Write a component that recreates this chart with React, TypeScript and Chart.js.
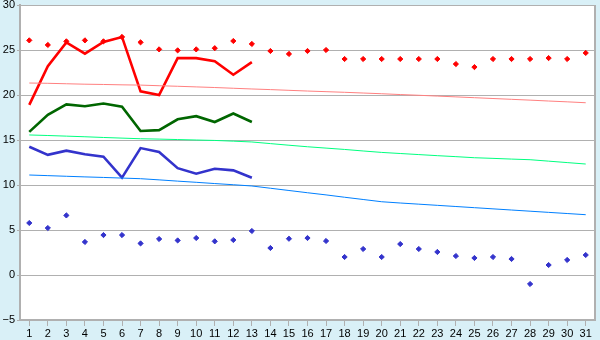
import React, { useEffect, useRef } from "react";
import { Chart, registerables } from "chart.js";

Chart.register(...registerables);

const days = ["1","2","3","4","5","6","7","8","9","10","11","12","13","14","15","16","17","18","19","20","21","22","23","24","25","26","27","28","29","30","31"];

// Daily max (red line, days 1-13)
const maxLine = [18.9, 23.2, 25.85, 24.6, 25.9, 26.45, 20.4, 20.0, 24.1, 24.1, 23.75, 22.25, 23.65,
  null, null, null, null, null, null, null, null, null, null, null, null, null, null, null, null, null, null];
// Daily mean (green line)
const meanLine = [15.9, 17.8, 18.95, 18.75, 19.05, 18.7, 16.0, 16.1, 17.3, 17.65, 17.0, 17.95, 17.0,
  null, null, null, null, null, null, null, null, null, null, null, null, null, null, null, null, null, null];
// Daily min (blue line)
const minLine = [14.25, 13.35, 13.82, 13.42, 13.15, 10.82, 14.1, 13.67, 11.87, 11.25, 11.8, 11.63, 10.8,
  null, null, null, null, null, null, null, null, null, null, null, null, null, null, null, null, null, null];
// Red markers
const maxPoints = [26.07, 25.56, 25.96, 26.07, 25.96, 26.45, 25.85, 25.07, 24.96, 25.07, 25.2, 26.0, 25.67,
  24.89, 24.56, 24.89, 25.0, 24.0, 24.0, 24.0, 24.0, 24.0, 24.0, 23.44, 23.1, 24.0, 24.0, 24.0, 24.1, 24.0, 24.67];
// Blue markers
const minPoints = [5.78, 5.22, 6.62, 3.67, 4.44, 4.44, 3.51, 4.0, 3.84, 4.11, 3.74, 3.89, 4.89,
  3.0, 4.03, 4.11, 3.78, 2.0, 2.89, 2.0, 3.44, 2.89, 2.56, 2.11, 1.89, 2.0, 1.78, -1.0, 1.11, 1.67, 2.22];
// Normals
const normalMax = [21.33, 21.3, 21.25, 21.2, 21.17, 21.13, 21.1, 21.03, 20.97, 20.9, 20.83, 20.75, 20.67, 20.6, 20.52, 20.44,
  20.37, 20.3, 20.22, 20.14, 20.05, 19.97, 19.88, 19.79, 19.7, 19.61, 19.52, 19.43, 19.33, 19.24, 19.14];
const normalMean = [15.56, 15.5, 15.43, 15.36, 15.28, 15.21, 15.14, 15.1, 15.05, 15.0, 14.95, 14.87, 14.78, 14.6, 14.42, 14.25,
  14.1, 13.95, 13.78, 13.62, 13.5, 13.38, 13.26, 13.15, 13.03, 12.96, 12.88, 12.81, 12.65, 12.49, 12.33];
const normalMin = [11.11, 11.04, 10.97, 10.9, 10.84, 10.77, 10.7, 10.57, 10.43, 10.3, 10.16, 10.03, 9.89, 9.64, 9.39, 9.14,
  8.9, 8.64, 8.39, 8.14, 8.0, 7.87, 7.74, 7.61, 7.48, 7.35, 7.22, 7.09, 6.96, 6.83, 6.7];

const GRID = "#b0b0b0";
const FONT = { family: "'Liberation Sans', Arial, sans-serif", size: 11 };

const plotFrame = {
  id: "plotFrame",
  beforeDraw(chart: any) {
    const { ctx, chartArea: a } = chart;
    ctx.save();
    ctx.fillStyle = "#ffffff";
    ctx.fillRect(a.left, a.top, a.right - a.left, a.bottom - a.top);
    ctx.restore();
  },
  afterDraw(chart: any) {
    const { ctx, chartArea: a } = chart;
    ctx.save();
    ctx.strokeStyle = GRID;
    ctx.lineWidth = 2;
    ctx.beginPath();
    ctx.moveTo(a.right, a.top);
    ctx.lineTo(a.right, a.bottom);
    ctx.stroke();
    ctx.restore();
  },
};

export default function App() {
  const ref = useRef<HTMLCanvasElement>(null);
  useEffect(() => {
    document.body.style.margin = "0";
    const lineDs = (data: any[], color: string, width: number) => ({
      data, borderColor: color, backgroundColor: color, borderWidth: width,
      pointRadius: 0, showLine: true, spanGaps: false, tension: 0, fill: false,
    });
    const dotDs = (data: any[], color: string) => ({
      data, borderColor: color, backgroundColor: color, showLine: false,
      pointStyle: "rectRot", pointRadius: 2.6, borderWidth: 1,
    });
    const chart = new Chart(ref.current!, {
      type: "line",
      data: {
        labels: days,
        datasets: [
          lineDs(normalMax, "#ff8080", 1),
          lineDs(normalMean, "#00ff80", 1),
          lineDs(normalMin, "#0080ff", 1),
          lineDs(maxLine, "#ff0000", 2.6),
          lineDs(meanLine, "#006600", 2.6),
          lineDs(minLine, "#3333cc", 2.6),
          dotDs(maxPoints, "#ff0000"),
          dotDs(minPoints, "#3333cc"),
        ] as any,
      },
      options: {
        animation: false,
        responsive: false,
        devicePixelRatio: 1,
        layout: { padding: { top: 5, right: 5, left: 0, bottom: 0 } },
        plugins: { legend: { display: false }, tooltip: { enabled: false } },
        scales: {
          x: {
            offset: true,
            grid: { drawOnChartArea: false, drawTicks: true, tickLength: 6, color: GRID, offset: false },
            border: { color: GRID, width: 2 },
            ticks: { color: "#000", font: FONT, padding: 1, autoSkip: false, maxRotation: 0 },
            afterFit(s: any) { s.height = 20; s.paddingLeft = 0; s.paddingRight = 0; },
          },
          y: {
            min: -5, max: 30,
            grid: { color: GRID, tickLength: 3, lineWidth: 1 },
            border: { color: GRID, width: 2 },
            ticks: {
              stepSize: 5, color: "#000", font: FONT, padding: 2,
              callback: (v: any) => String(v).replace("-", "\u2212"),
            },
            afterFit(s: any) { s.width = 20; s.paddingTop = 0; s.paddingBottom = 0; },
          },
        },
      },
      plugins: [plotFrame],
    });
    return () => chart.destroy();
  }, []);
  return (
    <div style={{ width: 600, height: 340, background: "#d9f0f7" }}>
      <canvas ref={ref} width={600} height={340} style={{ display: "block" }} />
    </div>
  );
}
